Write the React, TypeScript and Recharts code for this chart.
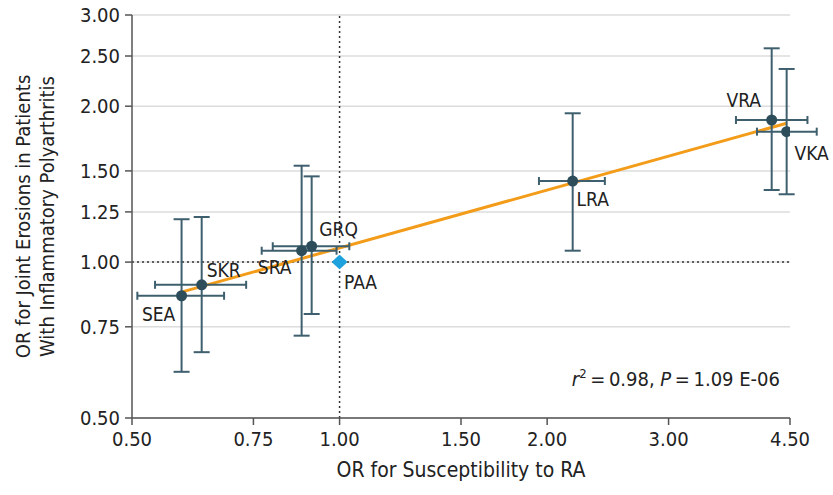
import {
  ScatterChart,
  Scatter,
  XAxis,
  YAxis,
  CartesianGrid,
  ErrorBar,
  ReferenceLine,
  ReferenceDot,
} from 'recharts';

// populations (odds ratios)
const names = ['SEA', 'SKR', 'SRA', 'GRQ', 'LRA', 'VRA', 'VKA'];
const orX = [0.59, 0.631, 0.881, 0.911, 2.178, 4.233, 4.45];
const orXLow = [0.509, 0.54, 0.771, 0.8, 1.946, 3.757, 4.03];
const orXHigh = [0.68, 0.732, 0.99, 1.033, 2.425, 4.77, 4.92];
const orY = [0.861, 0.904, 1.052, 1.073, 1.434, 1.881, 1.786];
const orYLow = [0.614, 0.67, 0.721, 0.794, 1.052, 1.378, 1.352];
const orYHigh = [1.21, 1.222, 1.535, 1.464, 1.938, 2.587, 2.36];

// reference population
const refName = 'PAA';
const refX = 1.0;
const refY = 1.0;

// fitted line end points
const fitX = [0.593, 4.45];
const fitY = [0.877, 1.854];

const xTicks = [0.5, 0.75, 1.0, 1.5, 2.0, 3.0, 4.5];
const yTicks = [0.5, 0.75, 1.0, 1.25, 1.5, 2.0, 2.5, 3.0];

const FONT = '"DejaVu Sans Condensed", "DejaVu Sans", sans-serif';
const DOT = '#2d4d5b';
const BAR = '#3e5f6d';

// where each label sits relative to its marker (px)
const labelOffsets: Record<string, [number, number]> = {
  SEA: [-23, 18],
  SKR: [22, -15],
  SRA: [-27, 16],
  GRQ: [27, -17],
  PAA: [21, 20],
  LRA: [20, 18],
  VRA: [-28, -20],
  VKA: [25, 21],
};

const points = names.map((name, i) => ({
  name,
  x: orX[i],
  y: orY[i],
  errX: [orX[i] - orXLow[i], orXHigh[i] - orX[i]],
  errY: [orY[i] - orYLow[i], orYHigh[i] - orY[i]],
}));

const refPoint = [{ name: refName, x: refX, y: refY }];

const allLabels = [...points, ...refPoint];

function PointLabel({ cx, cy, name }: { cx: number; cy: number; name: string }) {
  const [dx, dy] = labelOffsets[name] || [0, 0];
  return (
    <text
      x={cx + dx}
      y={cy + dy}
      textAnchor="middle"
      dominantBaseline="central"
      fontFamily={FONT}
      fontSize={19}
      fill="#222"
    >
      {name}
    </text>
  );
}

const fmt = (v: number) => v.toFixed(2);

export default function App() {
  return (
    <div style={{ position: 'absolute', left: 0, top: 0, width: 833, height: 495, background: '#fff' }}>
      <ScatterChart width={833} height={495} margin={{ top: 15, right: 43, left: 0, bottom: 0 }}>
        <CartesianGrid vertical={false} stroke="#dcdcdc" strokeWidth={1.5} />
        <XAxis
          type="number"
          dataKey="x"
          scale="log"
          domain={[0.5, 4.5]}
          allowDataOverflow
          ticks={xTicks}
          tickFormatter={fmt}
          height={77}
          tickSize={7}
          tickMargin={7}
          stroke="#555"
          strokeWidth={1.5}
          tick={{ fill: '#222', fontSize: 20, fontFamily: FONT }}
          label={{
            value: 'OR for Susceptibility to RA',
            position: 'insideBottom',
            offset: 18,
            fill: '#222',
            fontSize: 21,
            fontFamily: FONT,
          }}
        />
        <YAxis
          type="number"
          dataKey="y"
          scale="log"
          domain={[0.5, 3]}
          allowDataOverflow
          ticks={yTicks}
          tickFormatter={fmt}
          width={132}
          tickSize={7}
          tickMargin={5}
          stroke="#555"
          strokeWidth={1.5}
          tick={{ fill: '#222', fontSize: 20, fontFamily: FONT }}
          label={{
            content: (props: any) => {
              const vb = props.viewBox || { y: 15, height: 403 };
              const cy = vb.y + vb.height / 2;
              return (
                <g fontFamily={FONT} fontSize={20} fill="#222" textAnchor="middle">
                  <text x={30} y={cy} transform={`rotate(-90, 30, ${cy})`}>
                    OR for Joint Erosions in Patients
                  </text>
                  <text x={54} y={cy} transform={`rotate(-90, 54, ${cy})`}>
                    With Inflammatory Polyarthritis
                  </text>
                </g>
              );
            },
          }}
        />
        <ReferenceLine x={1} stroke="#333" strokeWidth={1.5} strokeDasharray="2 3" />
        <ReferenceLine y={1} stroke="#333" strokeWidth={1.5} strokeDasharray="2 3" />
        <ReferenceLine
          segment={[
            { x: fitX[0], y: fitY[0] },
            { x: fitX[1], y: fitY[1] },
          ]}
          stroke="#f39c1a"
          strokeWidth={3}
        />
        <Scatter
          data={points}
          isAnimationActive={false}
          shape={(p: any) => <circle cx={p.cx} cy={p.cy} r={5.5} fill={DOT} />}
        >
          <ErrorBar dataKey="errX" direction="x" width={4} stroke={BAR} strokeWidth={2} />
          <ErrorBar dataKey="errY" direction="y" width={8} stroke={BAR} strokeWidth={2} />
        </Scatter>
        <Scatter
          data={refPoint}
          isAnimationActive={false}
          shape={(p: any) => (
            <path
              d={`M${p.cx - 6.5},${p.cy} L${p.cx},${p.cy - 6} L${p.cx + 6.5},${p.cy} L${p.cx},${p.cy + 6} Z`}
              fill="#1ea2de"
              stroke="#1ea2de"
              strokeWidth={2}
              strokeLinejoin="round"
            />
          )}
        />
        {allLabels.map((d) => (
          <ReferenceDot
            key={d.name}
            x={d.x}
            y={d.y}
            r={0}
            ifOverflow="visible"
            shape={(p: any) => <PointLabel cx={p.cx} cy={p.cy} name={d.name} />}
          />
        ))}
      </ScatterChart>
      <div
        style={{
          position: 'absolute',
          right: 833 - 780,
          top: 367,
          fontFamily: FONT,
          fontSize: 20,
          color: '#222',
          whiteSpace: 'nowrap',
        }}
      >
        <i>r</i>
        <sup style={{ fontSize: 13, verticalAlign: 'baseline', position: 'relative', top: -8 }}>2</sup>
        {'\u2009=\u20090.98, '}
        <i>P</i>
        {'\u2009=\u20091.09 E-06'}
      </div>
    </div>
  );
}
